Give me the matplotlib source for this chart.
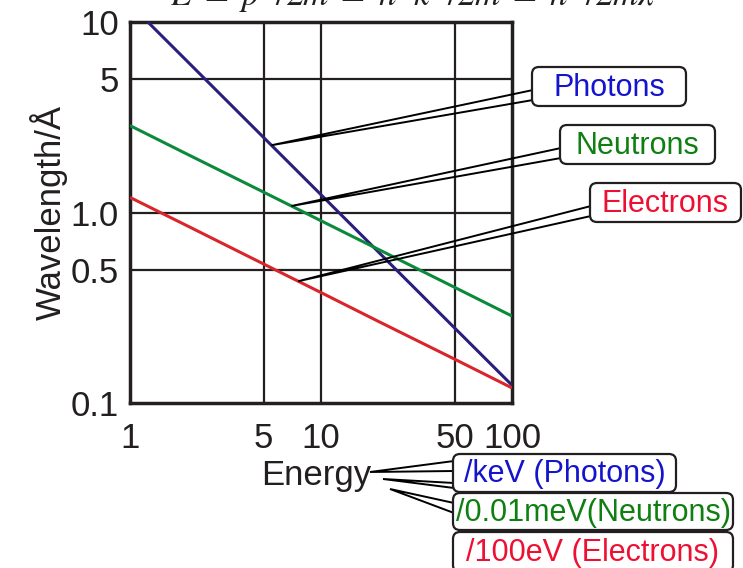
import numpy as np
import matplotlib
matplotlib.use("Agg")
import matplotlib.pyplot as plt
from matplotlib.patches import FancyBboxPatch

plt.rcParams['font.family'] = ['Liberation Sans', 'DejaVu Sans']
plt.rcParams['mathtext.fontset'] = 'stix'

# ---- data ----
energy = [1.0, 2.0, 5.0, 10.0, 20.0, 50.0, 100.0]
photon_E = [1.24, 2.0, 5.0, 10.0, 20.0, 50.0, 100.0]
photons = [10.0, 6.2, 2.48, 1.24, 0.62, 0.248, 0.124]
neutrons = [2.86, 2.02, 1.28, 0.905, 0.64, 0.405, 0.286]
electrons = [1.2, 0.85, 0.537, 0.38, 0.268, 0.17, 0.12]

xticks = [1, 5, 10, 50, 100]
xticklabels = ["1", "5", "10", "50", "100"]
yticks = [0.1, 0.5, 1.0, 5, 10]
yticklabels = ["0.1", "0.5", "1.0", "5", "10"]

series_names = ["Photons", "Neutrons", "Electrons"]
unit_labels = ["/keV (Photons)", "/0.01meV(Neutrons)", "/100eV (Electrons)"]
label_at_E = [5.5, 7.0, 7.6]

line_colors = ["#2b1f7c", "#0b8a3c", "#d8262a"]
text_colors = ["#1414cc", "#0f7f12", "#ee1033"]
ink = '#231f20'

W, H = 743, 568
fig = plt.figure(figsize=(W / 100, H / 100), dpi=100)
ax = fig.add_axes([130 / W, 1 - 403 / H, (512 - 130) / W, (403 - 22) / H])

xs = [photon_E, energy, energy]
ys = [photons, neutrons, electrons]
for x, y, c in zip(xs, ys, line_colors):
    ax.plot(x, y, color=c, lw=2.2, solid_capstyle='butt', zorder=3)

ax.set_xscale('log')
ax.set_yscale('log')
ax.set_xlim(1, 100)
ax.set_ylim(0.1, 10)
ax.set_xticks(xticks)
ax.set_xticklabels(xticklabels)
ax.set_yticks(yticks)
ax.set_yticklabels(yticklabels)
ax.minorticks_off()
ax.tick_params(length=0, labelsize=25, colors=ink)
ax.tick_params(axis='x', pad=14)
ax.tick_params(axis='y', pad=8)
for v in [5, 10, 50]:
    ax.axvline(v, color=ink, lw=1.6, zorder=2)
for v in [0.5, 1.0, 5]:
    ax.axhline(v, color=ink, lw=1.6, zorder=2)
for s in ax.spines.values():
    s.set_linewidth(2.5)
    s.set_color(ink)
ax.set_ylabel("Wavelength/Å", fontsize=25, color=ink, labelpad=2)

# overlay in pixel coordinates (top-down y)
ov = fig.add_axes([0, 0, 1, 1], facecolor='none')
ov.set_xlim(0, W)
ov.set_ylim(H, 0)
ov.axis('off')
fig.canvas.draw()


def to_px(xd, yd):
    X, Y = ax.transData.transform((xd, yd))
    return X, H - Y


def wedge(p, q1, q2, lw=1.4):
    ov.plot([q1[0], p[0], q2[0]], [q1[1], p[1], q2[1]], color='black', lw=lw,
            solid_joinstyle='miter', zorder=5)


def box(x0, y0, x1, y1, text, color, fs):
    b = FancyBboxPatch((x0, y0), x1 - x0, y1 - y0,
                       boxstyle="round,pad=0,rounding_size=7",
                       fc='white', ec=ink, lw=1.6, zorder=6)
    ov.add_patch(b)
    ov.text((x0 + x1) / 2, (y0 + y1) / 2 + 1, text, color=color, fontsize=fs,
            ha='center', va='center', zorder=7)


# series callouts
boxes = [(532, 67, 686, 106), (560, 125, 715, 164), (590, 183, 741, 222)]
for i, (name, e) in enumerate(zip(series_names, label_at_E)):
    lam = 10 ** np.interp(np.log10(e), np.log10(xs[i]), np.log10(ys[i]))
    p = to_px(e, lam)
    x0, y0, x1, y1 = boxes[i]
    wedge(p, (x0 + 1, y0 + 23), (x0 + 1, y0 + 33))
    box(x0, y0, x1, y1, name, text_colors[i], 22)

# energy label and unit callouts
ov.text(316, 476, "Energy", fontsize=25, color=ink, ha='center', va='center', zorder=7)
ubox = [(453, 454, 676, 492), (453, 493, 733, 530), (453, 532, 733, 572)]
wedge((370, 472), (454, 461), (454, 471))
wedge((383, 479), (454, 483), (454, 488))
wedge((390, 489), (454, 503), (454, 513))
for i, t in enumerate(unit_labels):
    x0, y0, x1, y1 = ubox[i]
    box(x0, y0, x1, y1, t, text_colors[i], 22)

# formula at the top (cut by the figure edge, as in the reference)
ov.text(420, 6, r"$E\ =\ p^2/2m\ =\ \hbar^2k^2/2m\ =\ h^2/2m\lambda^2$",
        fontsize=25, color=ink, ha='center', va='baseline', zorder=7)

fig.savefig("out.png", dpi=100)
